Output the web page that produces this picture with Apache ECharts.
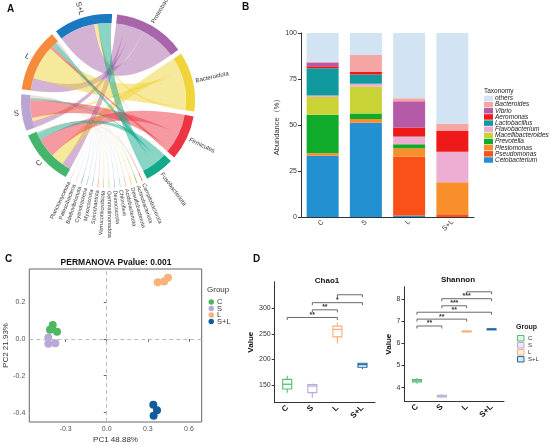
<!DOCTYPE html>
<html><head><meta charset="utf-8">
<script src="https://cdn.jsdelivr.net/npm/echarts@6/dist/echarts.min.js"></script>
<style>html,body{margin:0;padding:0;background:#fff}#main{width:550px;height:445px}</style>
</head><body><div id="main"></div>
<script>
const FONT = '"Liberation Sans", Arial, sans-serif';

// ---------- Panel A : chord (sample -> phylum) ----------
const groups = ['C', 'S', 'L', 'S+L'];
const groupChordColors = ['#43b66c', '#b8a5d3', '#f68a3d', '#1a79c0'];
const phyla = ['Proteobacteria', 'Bacteroidota', 'Firmicutes', 'Fusobacteriota',
  'Campilobacterota', 'Actinobacteriota', 'Desulfobacterota', 'Acidobacteriota',
  'Chloroflexi', 'Deinococcota', 'Gemmatimonadota', 'Verrucomicrobiota',
  'Spirochaetota', 'Myxococcota', 'Cyanobacteria', 'Bdellovibrionota',
  'Patescibacteria', 'Planctomycetota'];
const phylaColors = ['#a965a9', '#f0d43a', '#ee3442', '#13a98b',
  '#e8573a', '#7cc142', '#f1cf3b', '#f6b48f', '#a6cee3', '#cab2d6', '#b2df8a',
  '#fdbf6f', '#fb9a99', '#8dd3c7', '#bebada', '#80b1d3', '#fccde5', '#d9d9d9'];
// link weights from each sample group to each phylum (same order as phyla)
const chordC  = [6.9, 9.7, 14.5, 5.1, 0.1, 0.15, 0.1, 0.1, 0.1, 0.1, 0.1, 0.1, 0.1, 0.1, 0.1, 0.1, 0.1, 0.05];
const chordS  = [5, 2.5, 13, 1.5, 0.15, 0.15, 0.2, 0.2, 0.2, 0.1, 0.2, 0.2, 0.2, 0.1, 0.15, 0.2, 0.15, 0.2];
const chordL  = [9.5, 25, 2.3, 3.5, 0.1, 0.1, 0.15, 0.15, 0.15, 0.2, 0.15, 0.05, 0.15, 0.2, 0.15, 0.15, 0.15, 0.15];
const chordSL = [26.5, 2.5, 0.4, 9.5, 0.1, 0.05, 0, 0, 0, 0.05, 0, 0.1, 0, 0.05, 0.05, 0, 0.05, 0.05];

// ---------- Panel B : stacked genus abundance ----------
const barCategories = ['C', 'S', 'L', 'S+L'];
const genera = ['Cetobacterium', 'Pseudomonas', 'Plesiomonas', 'Prevotella', 'Macellibacteroides',
  'Flavobacterium', 'Lactobacillus', 'Aeromonas', 'Vibrio', 'Bacteroides', 'others'];
const generaColors = ['#2390d2', '#fb5119', '#f98f2a', '#10ab2a', '#c9d336',
  '#eeadd3', '#119a9e', '#f01919', '#b55aa6', '#f5a6a3', '#d2e3f3'];
const abundC  = [33.1, 0.3, 1.2, 21.0, 9.6, 0.9, 14.7, 1.1, 2.0, 0.5, 15.6];
const abundS  = [51.1, 0.3, 1.9, 2.9, 14.7, 1.5, 5.1, 1.4, 0.2, 9.0, 11.9];
const abundL  = [0.8, 31.9, 4.6, 2.3, 0, 4.0, 0.2, 4.9, 14.2, 1.7, 35.4];
const abundSL = [0, 1.5, 17.4, 0, 0, 16.6, 0, 11.2, 0, 4.0, 49.3];
const abundTicks = [0, 25, 50, 75, 100];

// ---------- Panel C : PCoA ----------
const pcoaColors = ['#4cb860', '#b9a8d8', '#f9b27c', '#135b9a'];
const pcoaC  = [[-0.394, 0.075], [-0.414, 0.050], [-0.363, 0.038]];
const pcoaS  = [[-0.426, 0.007], [-0.426, -0.027], [-0.375, -0.024]];
const pcoaL  = [[0.372, 0.307], [0.418, 0.311], [0.447, 0.332]];
const pcoaSL = [[0.340, -0.358], [0.367, -0.387], [0.342, -0.417]];
const pc1Ticks = [-0.3, 0, 0.3, 0.6];
const pc2Ticks = [-0.4, -0.2, 0, 0.2];

// ---------- Panel D : alpha diversity ----------
const boxColors = ['#52bf72', '#bca9d9', '#f8b07a', '#1d6aa5'];
const boxFills = ['#e3f4e8', '#efe9f6', '#fdeee2', '#d8e6f2'];
// [min, Q1, median, Q3, max]
const chao1Box = [[135, 142, 151.4, 161, 168], [125, 135, 148, 151, 153], [231, 244, 258.6, 265, 272], [181, 184.6, 189.8, 192.5, 193]];
const shannonBox = [[4.18, 4.26, 4.31, 4.37, 4.43], [3.55, 3.58, 3.62, 3.66, 3.70], [6.52, 6.53, 6.54, 6.555, 6.565], [6.62, 6.63, 6.64, 6.65, 6.66]];
const chao1Pairs = [[0, 2, 282], [1, 2, 297], [1, 3, 311], [2, 3, 326.5]];
const chao1Stars = ['**', '**', '*', ''];
const shannonPairs = [[0, 1, 6.78], [0, 2, 7.09], [0, 3, 7.40], [1, 2, 7.69], [1, 3, 8.01], [2, 3, 8.32]];
const shannonStars = ['**', '**', '**', '***', '***', ''];
const chao1Ticks = [150, 200, 250, 300];
const shannonTicks = [4, 5, 6, 7, 8];

// ---------- build ----------
const chart = echarts.init(document.getElementById('main'));

const chordRows = [chordC, chordS, chordL, chordSL];
const chordNodes = phyla.map((p, i) => ({ name: p, itemStyle: { color: phylaColors[i] } }))
  .concat(groups.map((g, i) => ({ name: g, itemStyle: { color: groupChordColors[i] } })));
const chordLinks = [];
groups.forEach((g, gi) => chordRows[gi].forEach((v, pi) => {
  if (v > 0) chordLinks.push({ source: g, target: phyla[pi], value: v });
}));

const abundRows = [abundC, abundS, abundL, abundSL];
const barSeries = genera.map((g, gi) => ({
  type: 'bar', name: g, stack: 'ab', xAxisIndex: 0, yAxisIndex: 0,
  barWidth: 32, itemStyle: { color: generaColors[gi] },
  data: abundRows.map(r => r[gi])
}));

function sigSeries(pairs, stars, axisIdx) {
  return {
    type: 'custom', xAxisIndex: axisIdx, yAxisIndex: axisIdx, clip: false,
    data: pairs, encode: { x: [0, 1], y: 2 },
    renderItem: function (params, api) {
      const a = api.coord([api.value(0), api.value(2)]);
      const b = api.coord([api.value(1), api.value(2)]);
      const t = 2.5;
      return {
        type: 'group', children: [
          { type: 'polyline', shape: { points: [[a[0], a[1] + t], [a[0], a[1]], [b[0], a[1]], [b[0], a[1] + t]] },
            style: { stroke: '#444', lineWidth: 0.8, fill: null } },
          { type: 'text', x: (a[0] + b[0]) / 2, y: a[1] + 1,
            style: { text: stars[params.dataIndex], fill: '#333', font: 'bold 7px ' + FONT, textAlign: 'center', textVerticalAlign: 'bottom' } }
        ]
      };
    }
  };
}

function boxSeries(boxes, axisIdx, fills) {
  return {
    type: 'custom', xAxisIndex: axisIdx, yAxisIndex: axisIdx,
    data: boxes.map((b, i) => [i].concat(b)), encode: { x: 0, y: [1, 2, 3, 4, 5] },
    renderItem: function (params, api) {
      const i = params.dataIndex;
      const c = api.coord([api.value(0), api.value(3)]);
      const yMin = api.coord([api.value(0), api.value(1)])[1];
      const yQ1 = api.coord([api.value(0), api.value(2)])[1];
      const yQ3 = api.coord([api.value(0), api.value(4)])[1];
      const yMax = api.coord([api.value(0), api.value(5)])[1];
      const w = 9, col = boxColors[i];
      const ls = { stroke: col, lineWidth: 1.1, fill: null };
      return {
        type: 'group', children: [
          { type: 'line', shape: { x1: c[0], y1: yMin, x2: c[0], y2: yQ1 }, style: ls },
          { type: 'line', shape: { x1: c[0], y1: yQ3, x2: c[0], y2: yMax }, style: ls },
          { type: 'rect', shape: { x: c[0] - w / 2, y: yQ3, width: w, height: Math.max(yQ1 - yQ3, 1) },
            style: { stroke: col, lineWidth: 1.1, fill: fills[i] } },
          { type: 'line', shape: { x1: c[0] - w / 2, y1: c[1], x2: c[0] + w / 2, y2: c[1] }, style: { stroke: col, lineWidth: 1.3 } }
        ]
      };
    }
  };
}

const axisTxt = { color: '#333', fontSize: 7, fontFamily: FONT };
const boldCat = { color: '#111', fontSize: 8, fontWeight: 'bold', fontFamily: FONT, rotate: 45, margin: 4 };

const baseGraphic = [
  { type: 'text', x: 7, y: 4, style: { text: 'A', font: 'bold 10px ' + FONT, fill: '#111' } },
  { type: 'text', x: 242, y: 2, style: { text: 'B', font: 'bold 10px ' + FONT, fill: '#111' } },
  { type: 'text', x: 5, y: 254, style: { text: 'C', font: 'bold 10px ' + FONT, fill: '#111' } },
  { type: 'text', x: 253, y: 254, style: { text: 'D', font: 'bold 10px ' + FONT, fill: '#111' } },
  { type: 'text', x: 484, y: 88, style: { text: 'Taxonomy', font: '6.5px ' + FONT, fill: '#222' } },
  { type: 'text', x: 116, y: 258, style: { text: 'PERMANOVA Pvalue: 0.001', font: 'bold 8.5px ' + FONT, fill: '#111', textAlign: 'center' } },
  { type: 'text', x: 207, y: 286, style: { text: 'Group', font: '8px ' + FONT, fill: '#333' } },
  { type: 'text', x: 327, y: 277, style: { text: 'Chao1', font: 'bold 8px ' + FONT, fill: '#111', textAlign: 'center' } },
  { type: 'text', x: 458, y: 276, style: { text: 'Shannon', font: 'bold 8px ' + FONT, fill: '#111', textAlign: 'center' } },
  { type: 'text', x: 516, y: 324, style: { text: 'Group', font: 'bold 7px ' + FONT, fill: '#222' } }
];

const option = {
  animation: false,
  textStyle: { fontFamily: FONT },
  grid: [
    { left: 301, top: 33, width: 173, height: 184 },
    { left: 29.3, top: 269, width: 172.4, height: 154, show: true, borderColor: '#666', borderWidth: 1 },
    { left: 274.7, top: 281.7, width: 100.3, height: 121 },
    { left: 404.5, top: 286.7, width: 99.5, height: 115 }
  ],
  xAxis: [
    { gridIndex: 0, type: 'category', data: barCategories,
      axisLine: { lineStyle: { color: '#333', width: 1 } }, axisTick: { length: 3, lineStyle: { color: '#333' } },
      axisLabel: { color: '#333', fontSize: 7, rotate: 45, margin: 4, fontFamily: FONT } },
    { gridIndex: 1, type: 'value', min: -0.565, max: 0.693, name: 'PC1 48.88%', nameLocation: 'middle', nameGap: 14,
      nameTextStyle: { color: '#333', fontSize: 8 },
      axisLine: { show: false }, splitLine: { show: false },
      axisTick: { show: true, length: 3, customValues: pc1Ticks, lineStyle: { color: '#666' } },
      axisLabel: { customValues: pc1Ticks, color: '#555', fontSize: 7, margin: 4, formatter: v => v.toFixed(1) } },
    { gridIndex: 2, type: 'category', data: barCategories,
      axisLine: { lineStyle: { color: '#333', width: 1 } }, axisTick: { length: 3, alignWithLabel: true, lineStyle: { color: '#333' } },
      axisLabel: boldCat },
    { gridIndex: 3, type: 'category', data: barCategories,
      axisLine: { lineStyle: { color: '#333', width: 1 } }, axisTick: { length: 3, alignWithLabel: true, lineStyle: { color: '#333' } },
      axisLabel: boldCat }
  ],
  yAxis: [
    { gridIndex: 0, type: 'value', min: 0, max: 100, name: 'Abundance（%）', nameLocation: 'middle', nameGap: 18,
      nameTextStyle: { color: '#333', fontSize: 7.5 },
      axisLine: { show: true, lineStyle: { color: '#333' } }, splitLine: { show: false },
      axisTick: { show: true, length: 3, customValues: abundTicks, lineStyle: { color: '#333' } },
      axisLabel: Object.assign({ customValues: abundTicks, margin: 4 }, axisTxt) },
    { gridIndex: 1, type: 'value', min: -0.451, max: 0.379, name: 'PC2 21.93%', nameLocation: 'middle', nameGap: 17,
      nameTextStyle: { color: '#333', fontSize: 8 },
      axisLine: { show: false }, splitLine: { show: false },
      axisTick: { show: true, length: 3, customValues: pc2Ticks, lineStyle: { color: '#666' } },
      axisLabel: { customValues: pc2Ticks, color: '#555', fontSize: 7, margin: 4, formatter: v => v.toFixed(1) } },
    { gridIndex: 2, type: 'value', min: 115.3, max: 352, name: 'Value', nameLocation: 'middle', nameGap: 20,
      nameTextStyle: { color: '#111', fontSize: 8, fontWeight: 'bold' },
      axisLine: { show: true, lineStyle: { color: '#333' } }, splitLine: { show: false },
      axisTick: { show: true, length: 3, customValues: chao1Ticks, lineStyle: { color: '#333' } },
      axisLabel: Object.assign({ customValues: chao1Ticks, margin: 4 }, axisTxt) },
    { gridIndex: 3, type: 'value', min: 3.37, max: 8.55, name: 'Value', nameLocation: 'middle', nameGap: 12,
      nameTextStyle: { color: '#111', fontSize: 8, fontWeight: 'bold' },
      axisLine: { show: true, lineStyle: { color: '#333' } }, splitLine: { show: false },
      axisTick: { show: true, length: 3, customValues: shannonTicks, lineStyle: { color: '#333' } },
      axisLabel: Object.assign({ customValues: shannonTicks, margin: 4 }, axisTxt) }
  ],
  legend: [
    { left: 484, top: 95, padding: 0, orient: 'vertical', itemWidth: 9, itemHeight: 5.5, itemGap: -0.85, selectedMode: false,
      icon: 'rect', textStyle: { fontSize: 6.5, lineHeight: 6.2, color: '#222', fontStyle: 'italic', padding: [0, 0, 0, -3] },
      data: genera.slice().reverse() },
    { left: 208.5, top: 298, padding: 0, orient: 'vertical', itemWidth: 5.5, itemHeight: 5.5, itemGap: -1.5, selectedMode: false,
      textStyle: { fontSize: 7.5, lineHeight: 7.5, color: '#333', padding: [0, 0, 0, -2] },
      data: groups.map((g, i) => ({ name: g, icon: 'circle', itemStyle: { color: pcoaColors[i] } })) },
    { left: 517, top: 335, padding: 0, orient: 'vertical', itemWidth: 6.5, itemHeight: 5.5, itemGap: 0.5, selectedMode: false,
      textStyle: { fontSize: 6, lineHeight: 6.5, color: '#333', padding: [0, 0, 0, -1] },
      data: groups.map((g, i) => ({ name: g, icon: 'rect', itemStyle: { color: boxFills[i], borderColor: boxColors[i], borderWidth: 1 } })) }
  ],
  graphic: baseGraphic,
  series: [
    {
      type: 'chord', center: [108, 101], radius: [78, 87], startAngle: 84, clockwise: true,
      padAngle: 3.3, minAngle: 0,
      itemStyle: { borderRadius: 0 },
      lineStyle: { color: 'target', opacity: 0.5 },
      label: { show: false },
      data: chordNodes, links: chordLinks
    }
  ].concat(barSeries).concat(groups.map((g, i) => ({
    type: 'scatter', name: g, xAxisIndex: 1, yAxisIndex: 1, symbolSize: 8,
    itemStyle: { color: pcoaColors[i], opacity: 1 },
    data: [pcoaC, pcoaS, pcoaL, pcoaSL][i],
    markLine: i === 0 ? { silent: true, symbol: 'none', label: { show: false },
      lineStyle: { color: '#bbb', type: [4, 3], width: 1 }, data: [{ xAxis: 0 }, { yAxis: 0 }] } : undefined
  }))).concat([
    boxSeries(chao1Box, 2, groups.map(() => '#fff')),
    boxSeries(shannonBox, 3, boxFills),
    sigSeries(chao1Pairs, chao1Stars, 2),
    sigSeries(shannonPairs, shannonStars, 3)
  ])
};
chart.setOption(option);

// radial labels for the chord, placed from the library's own sector layout
(function addChordLabels() {
  const extra = [];
  try {
    const data = chart.getModel().getSeriesByIndex(0).getData();
    for (let i = 0; i < data.count(); i++) {
      const lay = data.getItemLayout(i);
      if (!lay || lay.startAngle == null) continue;
      const mid = (lay.startAngle + lay.endAngle) / 2;
      const r = lay.r + 3;
      const x = lay.cx + r * Math.cos(mid), y = lay.cy + r * Math.sin(mid);
      const right = Math.cos(mid) >= 0;
      const name = data.getName(i);
      const small = phyla.indexOf(name) >= 4;
      const isGroup = groups.indexOf(name) >= 0;
      extra.push({ type: 'text', x: x, y: y, rotation: right ? -mid : Math.PI - mid,
        style: { text: name, textAlign: right ? 'left' : 'right', textVerticalAlign: 'middle',
          font: (small ? 5.5 : (isGroup ? 7.5 : 6)) + 'px ' + FONT, fill: '#333' } });
    }
  } catch (e) {
    extra.push({ type: 'text', x: 5, y: 200, style: { text: 'E:' + e.message, font: '6px sans-serif' } });
  }
  chart.setOption({ graphic: baseGraphic.concat(extra) });
})();
</script></body></html>
